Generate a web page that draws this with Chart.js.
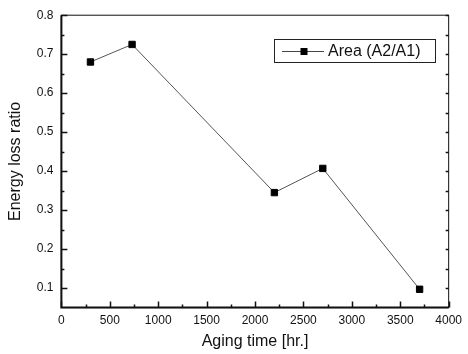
<!DOCTYPE html>
<html>
<head>
<meta charset="utf-8">
<script src="https://cdn.jsdelivr.net/npm/chart.js@4"></script>
<style>
  html, body { margin: 0; padding: 0; background: #fff; }
  #chart1 { display: block; }
</style>
</head>
<body>
<canvas id="chart1"></canvas>
<script>
// aging time (hr.) and energy loss ratio
const agingTime = [300, 730, 2200, 2700, 3700];
const lossRatio = [0.68, 0.725, 0.345, 0.407, 0.097];
const yTicks = [0.1, 0.2, 0.3, 0.4, 0.5, 0.6, 0.7, 0.8];
const seriesName = 'Area (A2/A1)';

const FONT = '"Liberation Sans", Arial, sans-serif';

const canvas = document.getElementById('chart1');
canvas.width = 468;
canvas.height = 354;
const ctx = canvas.getContext('2d');

const points = agingTime.map((t, i) => ({ x: t, y: lossRatio[i] }));

// inward ticks + frame (left/bottom heavier)
const framePlugin = {
  id: 'frame',
  afterDatasetsDraw(chart) {
    const c = chart.ctx;
    const a = chart.chartArea;
    const xs = chart.scales.x;
    const ys = chart.scales.y;
    c.save();
    c.strokeStyle = '#111';
    c.lineWidth = 1;
    c.strokeRect(a.left, a.top, a.right - a.left, a.bottom - a.top);
    c.lineWidth = 2;
    c.beginPath();
    c.moveTo(a.left, a.top);
    c.lineTo(a.left, a.bottom);
    c.lineTo(a.right, a.bottom);
    c.stroke();

    c.lineWidth = 1.5;
    c.beginPath();
    for (let v = 0; v <= 4000; v += 250) {
      const px = Math.round(xs.getPixelForValue(v)) + 0.5;
      const len = v % 500 === 0 ? 6 : 3;
      c.moveTo(px, a.bottom);
      c.lineTo(px, a.bottom - len);
    }
    for (let k = 1; k <= 15; k++) {
      const v = 0.05 * k + 0.05;
      const py = Math.round(ys.getPixelForValue(v)) + 0.5;
      const len = k % 2 === 1 ? 6 : 3;
      c.moveTo(a.left, py);
      c.lineTo(a.left + len, py);
      c.moveTo(a.right, py);
      c.lineTo(a.right - 3, py);
    }
    c.stroke();
    c.restore();
  },
};

// boxed legend in the upper right
const legendBox = {
  id: 'legendBox',
  afterDraw(chart) {
    const c = chart.ctx;
    c.save();
    c.strokeStyle = '#222';
    c.lineWidth = 1;
    c.strokeRect(274.5, 39.5, 161, 23);
    c.strokeStyle = '#444';
    c.beginPath();
    c.moveTo(282, 51.5);
    c.lineTo(324, 51.5);
    c.stroke();
    c.fillStyle = '#000';
    c.fillRect(300.5, 48, 7, 7);
    c.fillStyle = '#111';
    c.font = '16px ' + FONT;
    c.textBaseline = 'middle';
    c.fillText(seriesName, 328, 52);
    c.restore();
  },
};

new Chart(ctx, {
  type: 'scatter',
  data: {
    datasets: [
      {
        label: seriesName,
        data: points,
        showLine: true,
        borderColor: '#555',
        borderWidth: 1,
        pointStyle: 'rect',
        pointRadius: 4.5,
        pointBackgroundColor: '#000',
        pointBorderColor: '#000',
        pointBorderWidth: 1,
      },
    ],
  },
  options: {
    responsive: false,
    maintainAspectRatio: false,
    animation: false,
    layout: { padding: { top: 14, right: 11, left: 0, bottom: 0 } },
    plugins: {
      legend: { display: false },
      tooltip: { enabled: false },
    },
    scales: {
      x: {
        type: 'linear',
        min: 0,
        max: 4000,
        afterFit: (s) => { s.height = 46.4; },
        ticks: {
          stepSize: 500,
          padding: 6,
          color: '#111',
          font: { family: FONT, size: 12 },
          maxRotation: 0,
          callback: (v) => String(v),
        },
        grid: { display: false, drawTicks: false },
        border: { display: false },
        title: {
          display: true,
          text: 'Aging time [hr.]',
          color: '#111',
          padding: { top: 0, bottom: 3 },
          font: { family: FONT, size: 16 },
        },
      },
      y: {
        type: 'linear',
        min: 0.05,
        max: 0.8,
        afterFit: (s) => { s.width = 61.4; },
        afterBuildTicks: (s) => { s.ticks = yTicks.map((v) => ({ value: v })); },
        ticks: {
          padding: 8,
          color: '#111',
          font: { family: FONT, size: 12 },
          callback: (v) => v.toFixed(1),
        },
        grid: { display: false, drawTicks: false },
        border: { display: false },
        title: {
          display: true,
          text: 'Energy loss ratio',
          color: '#111',
          padding: { top: 6, bottom: 0 },
          font: { family: FONT, size: 16 },
        },
      },
    },
  },
  plugins: [framePlugin, legendBox],
});
</script>
</body>
</html>
